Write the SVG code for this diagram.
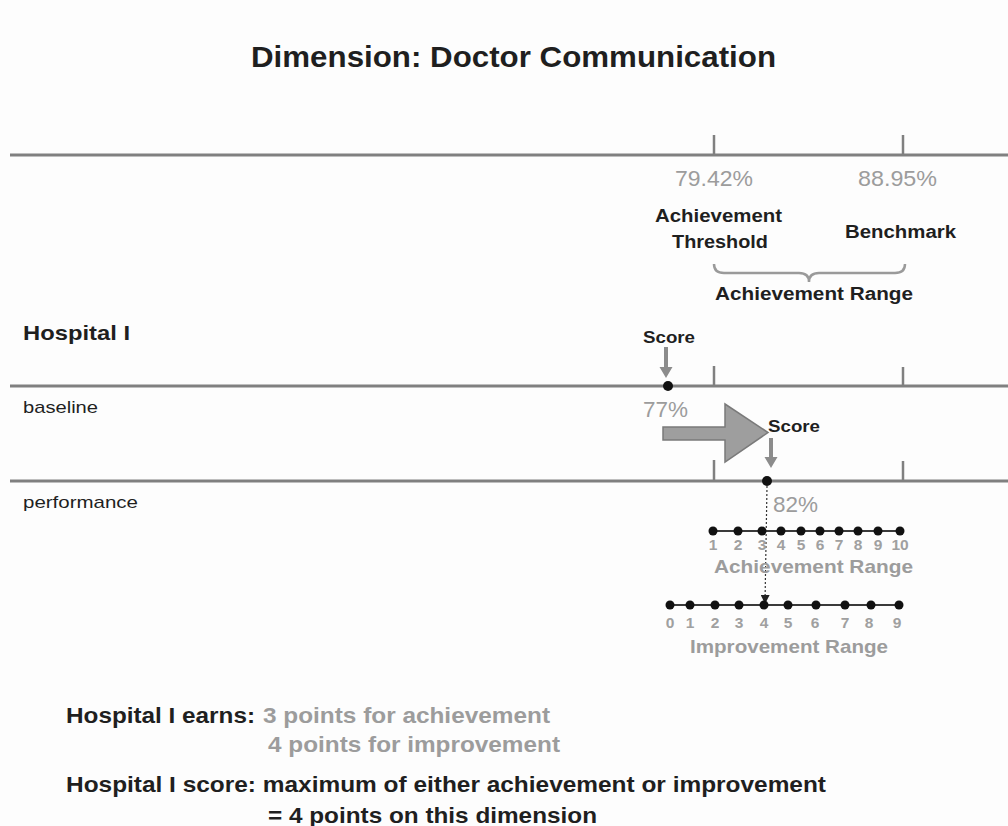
<svg xmlns="http://www.w3.org/2000/svg" width="1008" height="826" viewBox="0 0 1008 826">
<defs>
<style>
text{font-family:"Liberation Sans",Arial,sans-serif}
.dk{fill:#1f1f1f}
.gr{fill:#9c9c9c}
.b{font-weight:bold}
.axis{stroke:#808080;stroke-width:3;fill:none}
.tick{stroke:#808080;stroke-width:2.5;fill:none}
.scale{stroke:#3a3a3a;stroke-width:2;fill:none}
.num{font-size:15.5px;text-anchor:middle;fill:#a0a0a0;font-weight:bold}
</style>
<marker id="dash-head" viewBox="0 0 10 10" refX="9" refY="5" markerWidth="9" markerHeight="9" markerUnits="userSpaceOnUse" orient="auto">
<path d="M0,0 L10,5 L0,10 z" fill="#222"/>
</marker>
</defs>
<rect width="1008" height="826" fill="#fdfdfd"/>

<g id="title">
<text x="251" y="67" class="dk b" font-size="30" textLength="525" lengthAdjust="spacingAndGlyphs">Dimension: Doctor Communication</text>
</g>

<g id="axes">
<line class="axis" x1="10" y1="155" x2="1008" y2="155"/>
<line class="tick" x1="714" y1="135" x2="714" y2="155"/>
<line class="tick" x1="903" y1="135" x2="903" y2="155"/>
<line class="axis" x1="10" y1="386" x2="1008" y2="386"/>
<line class="tick" x1="714" y1="366" x2="714" y2="386"/>
<line class="tick" x1="903" y1="367" x2="903" y2="386"/>
<line class="axis" x1="10" y1="481" x2="1008" y2="481"/>
<line class="tick" x1="714" y1="460" x2="714" y2="481"/>
<line class="tick" x1="903" y1="461" x2="903" y2="481"/>
</g>

<g id="threshold">
<text x="675" y="186" class="gr" font-size="22" textLength="78" lengthAdjust="spacingAndGlyphs">79.42%</text>
<text x="655" y="222" class="dk b" font-size="18" textLength="127" lengthAdjust="spacingAndGlyphs">Achievement</text>
<text x="672" y="248" class="dk b" font-size="18" textLength="96" lengthAdjust="spacingAndGlyphs">Threshold</text>
</g>

<g id="benchmark">
<text x="858" y="186" class="gr" font-size="22" textLength="79" lengthAdjust="spacingAndGlyphs">88.95%</text>
<text x="845" y="238" class="dk b" font-size="18" textLength="111" lengthAdjust="spacingAndGlyphs">Benchmark</text>
</g>

<g id="achievement-range-top">
<path d="M714,264 Q714,273 724,273 L799,273 Q809,273 809,282 Q809,273 819,273 L895,273 Q905,273 905,264" fill="none" stroke="#9a9a9a" stroke-width="2.5"/>
<text x="715" y="300" class="dk b" font-size="18" textLength="198" lengthAdjust="spacingAndGlyphs">Achievement  Range</text>
</g>

<g id="row-labels">
<text x="23" y="340" class="dk b" font-size="21" textLength="107" lengthAdjust="spacingAndGlyphs">Hospital I</text>
<text x="23" y="413" class="dk" font-size="17" textLength="75" lengthAdjust="spacingAndGlyphs">baseline</text>
<text x="23" y="508" class="dk" font-size="17" textLength="115" lengthAdjust="spacingAndGlyphs">performance</text>
</g>

<g id="baseline-score">
<text x="643" y="343" class="dk b" font-size="16" textLength="52" lengthAdjust="spacingAndGlyphs">Score</text>
<path d="M664,347 L668,347 L668,367 L672.5,367 L666,378 L659.5,367 L664,367 z" fill="#8c8c8c"/>
<circle cx="668" cy="386" r="5" fill="#111"/>
<text x="643" y="417" class="gr" font-size="22" textLength="45" lengthAdjust="spacingAndGlyphs">77%</text>
</g>

<g id="big-arrow">
<path d="M663,427 L725,427 L725,404 L768,432.5 L725,462 L725,440 L663,440 z" fill="#9e9e9e" stroke="#7a7a7a" stroke-width="1.5"/>
</g>

<g id="performance-score">
<text x="768" y="432" class="dk b" font-size="16" textLength="52" lengthAdjust="spacingAndGlyphs">Score</text>
<path d="M769,438 L773,438 L773,457 L777.5,457 L771,468 L764.5,457 L769,457 z" fill="#8c8c8c"/>
<circle cx="767" cy="481" r="5" fill="#111"/>
<text x="773" y="512" class="gr" font-size="22" textLength="45" lengthAdjust="spacingAndGlyphs">82%</text>
</g>

<g id="connectors">
<line x1="767" y1="486" x2="765" y2="603" stroke="#333" stroke-width="1.2" stroke-dasharray="2,2" marker-end="url(#dash-head)"/>
</g>

<g id="achievement-scale">
<line class="scale" x1="713" y1="531" x2="900" y2="531"/>
<g fill="#111">
<circle cx="713" cy="531" r="4.5"/><circle cx="738" cy="531" r="4.5"/><circle cx="762" cy="531" r="4.5"/><circle cx="781" cy="531" r="4.5"/><circle cx="801" cy="531" r="4.5"/><circle cx="820" cy="531" r="4.5"/><circle cx="839" cy="531" r="4.5"/><circle cx="858" cy="531" r="4.5"/><circle cx="878" cy="531" r="4.5"/><circle cx="900" cy="531" r="4.5"/>
</g>
<text class="num" x="713" y="550">1</text><text class="num" x="738" y="550">2</text><text class="num" x="762" y="550">3</text><text class="num" x="781" y="550">4</text><text class="num" x="801" y="550">5</text><text class="num" x="820" y="550">6</text><text class="num" x="839" y="550">7</text><text class="num" x="858" y="550">8</text><text class="num" x="878" y="550">9</text><text class="num" x="900" y="550">10</text>
<text x="714" y="573" class="gr b" font-size="19" textLength="199" lengthAdjust="spacingAndGlyphs">Achievement  Range</text>
</g>

<g id="improvement-scale">
<line class="scale" x1="670" y1="605" x2="899" y2="605"/>
<g fill="#111">
<circle cx="670" cy="605" r="4.5"/><circle cx="690" cy="605" r="4.5"/><circle cx="715" cy="605" r="4.5"/><circle cx="739" cy="605" r="4.5"/><circle cx="764" cy="605" r="4.5"/><circle cx="788" cy="605" r="4.5"/><circle cx="816" cy="605" r="4.5"/><circle cx="845" cy="605" r="4.5"/><circle cx="871" cy="605" r="4.5"/><circle cx="899" cy="605" r="4.5"/>
</g>
<text class="num" x="670" y="628">0</text><text class="num" x="690" y="628">1</text><text class="num" x="715" y="628">2</text><text class="num" x="739" y="628">3</text><text class="num" x="764" y="628">4</text><text class="num" x="788" y="628">5</text><text class="num" x="815" y="628">6</text><text class="num" x="845" y="628">7</text><text class="num" x="869" y="628">8</text><text class="num" x="897" y="628">9</text>
<text x="690" y="653" class="gr b" font-size="19" textLength="198" lengthAdjust="spacingAndGlyphs">Improvement  Range</text>
</g>

<g id="summary">
<text x="66" y="723" class="dk b" font-size="22" textLength="189" lengthAdjust="spacingAndGlyphs">Hospital I earns:</text>
<text x="263" y="723" class="gr b" font-size="22" textLength="287" lengthAdjust="spacingAndGlyphs">3 points for achievement</text>
<text x="268" y="752" class="gr b" font-size="22" textLength="292" lengthAdjust="spacingAndGlyphs">4 points for improvement</text>
<text x="66" y="792" class="dk b" font-size="22" textLength="760" lengthAdjust="spacingAndGlyphs">Hospital I score: maximum  of either achievement or improvement</text>
<text x="268" y="823" class="dk b" font-size="22" textLength="329" lengthAdjust="spacingAndGlyphs">= 4 points on this dimension</text>
</g>
</svg>
